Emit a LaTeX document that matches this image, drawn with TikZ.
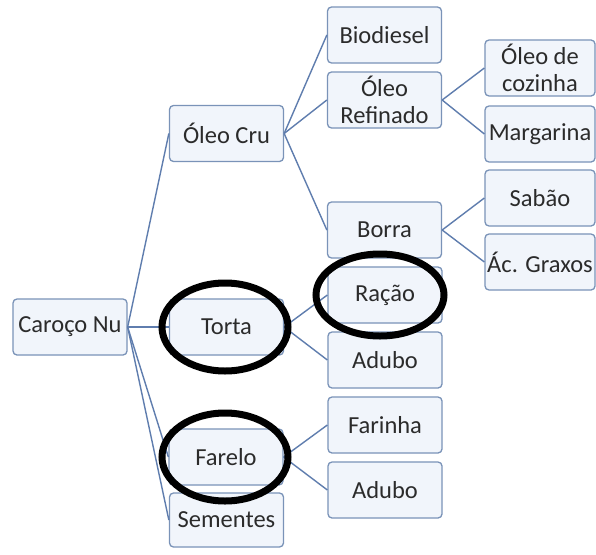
\documentclass[tikz,border=0pt]{standalone}
\usepackage{fontspec}
\setmainfont{Carlito}
\usepackage{xcolor}
\usetikzlibrary{calc}
\definecolor{boxline}{HTML}{7A93B8}
\definecolor{boxfill}{HTML}{F1F5FB}
\definecolor{linkcol}{HTML}{5F7DAE}
\definecolor{txtcol}{HTML}{2B2B2B}
\tikzset{item/.style={draw=boxline, fill=boxfill, line width=1.3pt, rounded corners=4pt,
		minimum width=114pt, minimum height=56pt, align=center, text=txtcol,
		font=\fontsize{24.5}{27}\selectfont, inner sep=1pt},
	link/.style={draw=linkcol, line width=1.4pt},
	ring/.style={draw=black, line width=7pt}}

\begin{document}
\begin{tikzpicture}[x=1pt,y=-1pt]
	\clip (0,0) rectangle (596,554);
	\fill[white] (0,0) rectangle (596,554);
	% root
	\node[item] (caroco) at (70,327) {Caroço Nu};
	% second level
	\node[item] (oleocru) at (226.5,133.5) {Óleo Cru};
	\node[item] (torta) at (226.5,327) {Torta};
	\node[item] (farelo) at (226,457) {Farelo};
	\node[item, minimum height=54pt] (sementes) at (226.5,520) {Sementes};
	% third level
	\node[item] (biodiesel) at (384.5,35) {Biodiesel};
	\node[item] (refinado) at (384.5,100) {Óleo\\Refinado};
	\node[item] (borra) at (384.5,230) {Borra};
	\node[item] (racao) at (385,295) {Ração};
	\node[item] (adubo1) at (385,360) {Adubo};
	\node[item] (farinha) at (385,425) {Farinha};
	\node[item] (adubo2) at (385,490) {Adubo};
	% fourth level
	\node[item, minimum width=110pt] (cozinha) at (540,68) {Óleo de\\cozinha};
	\node[item, minimum width=110pt] (margarina) at (540,134) {Margarina};
	\node[item, minimum width=110pt] (sabao) at (540,198) {Sabão};
	\node[item, minimum width=110pt] (graxos) at (540,262) {Ác. Graxos};
	% connectors
	\foreach \a/\b in {caroco/oleocru, caroco/torta, caroco/farelo, caroco/sementes,
		oleocru/biodiesel, oleocru/refinado, oleocru/borra,
		refinado/cozinha, refinado/margarina, borra/sabao, borra/graxos,
		torta/racao, torta/adubo1, farelo/farinha, farelo/adubo2}
		\draw[link] (\a.east) -- (\b.west);
	% marks
	\draw[ring] ([xshift=-1.5pt]torta.center) ellipse [x radius=63, y radius=44];
	\draw[ring] ([xshift=-5pt]racao.center) ellipse [x radius=64, y radius=41];
	\draw[ring] ([xshift=-1pt]farelo.center) ellipse [x radius=63, y radius=44];
\end{tikzpicture}
\end{document}
